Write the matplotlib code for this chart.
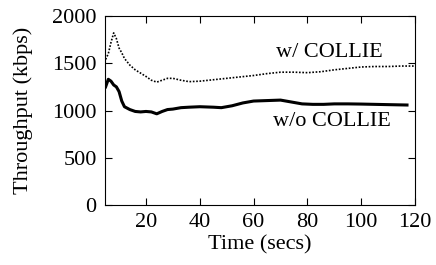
import matplotlib
matplotlib.use("Agg")
import matplotlib.pyplot as plt

# w/ COLLIE (dotted)
t_with = [5, 6, 7, 8, 9, 10, 11, 12, 14, 16, 18, 20, 22, 24, 26, 28, 30, 33, 36, 40,
          45, 50, 55, 60, 65, 70, 75, 80, 85, 90, 95, 100, 105, 110, 115, 120]
thr_with = [1540, 1600, 1720, 1820, 1760, 1660, 1610, 1550, 1480, 1430, 1395, 1360, 1320, 1300, 1320, 1340, 1340, 1320, 1305, 1310,
            1325, 1340, 1355, 1370, 1390, 1405, 1405, 1400, 1410, 1430, 1445, 1460, 1465, 1465, 1470, 1470]

# w/o COLLIE (solid)
t_without = [5, 6, 7, 8, 9, 10, 11, 12, 14, 16, 18, 20, 22, 24, 26, 28, 30, 33, 36, 40,
             45, 48, 52, 56, 60, 65, 70, 74, 78, 82, 86, 90, 95, 100, 105, 110, 117]
thr_without = [1250, 1330, 1310, 1270, 1250, 1200, 1100, 1040, 1010, 990, 985, 990, 985, 965, 990, 1010, 1015, 1030, 1035, 1040,
               1035, 1030, 1050, 1080, 1100, 1105, 1110, 1090, 1070, 1065, 1065, 1070, 1070, 1068, 1065, 1062, 1058]

plt.rcParams['font.family'] = ['Liberation Serif', 'DejaVu Serif']
plt.rcParams['font.size'] = 16

fig = plt.figure(figsize=(4.36, 2.65), dpi=100)
ax = fig.add_axes([0.241, 0.226, 0.711, 0.714])

ax.plot(t_with, thr_with, color='black', linestyle=(0, (1, 1)), linewidth=1.2)
ax.plot(t_without, thr_without, color='black', linestyle='-', linewidth=2.2)

ax.text(88, 1610, "w/ COLLIE", ha='center', va='center')
ax.text(89, 880, "w/o COLLIE", ha='center', va='center')

ax.set_xlim(4.8, 120)
ax.set_ylim(0, 2000)
ax.set_xticks([20, 40, 60, 80, 100, 120])
ax.set_yticks([0, 500, 1000, 1500, 2000])
ax.tick_params(direction='in', top=True, right=True, length=5, pad=6)
ax.set_xlabel("Time (secs)", labelpad=2)
ax.set_ylabel("Throughput (kbps)", labelpad=14)

fig.savefig("out.png", dpi=100)
